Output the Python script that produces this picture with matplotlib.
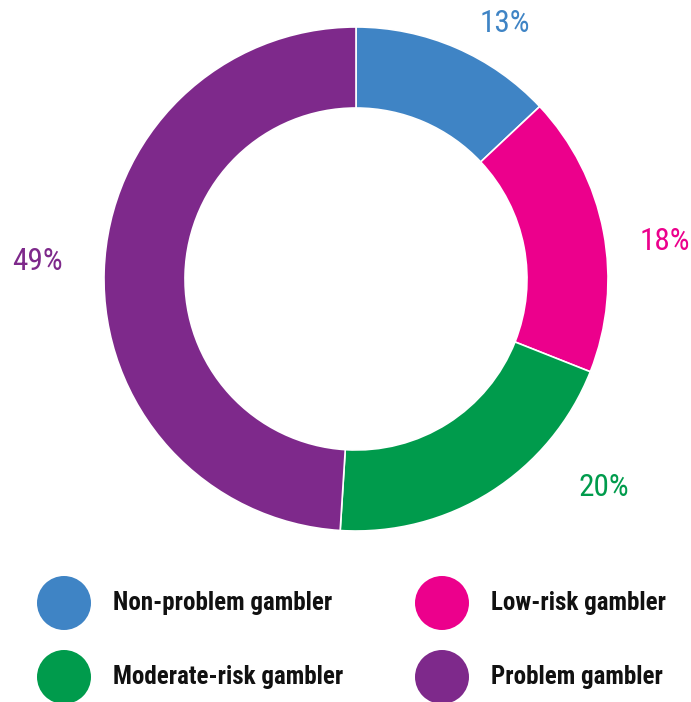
"""
Donut chart of gambler risk categories
"""
import matplotlib.pyplot as plt
from matplotlib.patches import Circle

categories = ['Non-problem gambler', 'Low-risk gambler', 'Moderate-risk gambler', 'Problem gambler']
shares = [13, 18, 20, 49]
colors = ['#3f84c5', '#ec008c', '#009b4c', '#7e298b']

W, H = 691, 702
fig = plt.figure(figsize=(W / 100, H / 100), dpi=100)
ax = fig.add_axes([0, 0, 1, 1])

# donut in pixel-like coords (y up)
cx, cy, r = 356, H - 279, 252
ax.pie(shares, colors=colors, startangle=90, counterclock=False,
       center=(cx, cy), radius=r,
       wedgeprops=dict(width=81, edgecolor='white', linewidth=1.2))

font = ['Roboto Condensed', 'DejaVu Sans']

# percent labels
label_pos = [(505, 24), (665, 242), (604, 487), (37, 262)]
for val, col, (x, y) in zip(shares, colors, label_pos):
    ax.text(x, H - y, f'{val}%', color=col, fontsize=22.5, family=font,
            ha='center', va='center')

# legend
leg_pos = [(64, 603), (442, 603), (64, 677), (442, 677)]
for name, col, (x, y) in zip(categories, colors, leg_pos):
    ax.add_patch(Circle((x, H - y), 27, color=col, lw=0))
    ax.text(x + 49, H - y, name, fontsize=18, family=font, weight='bold',
            ha='left', va='center', color='#111111')

ax.set_xlim(0, W)
ax.set_ylim(0, H)
ax.set_aspect('equal')
ax.axis('off')

plt.savefig('out.png', dpi=100)
